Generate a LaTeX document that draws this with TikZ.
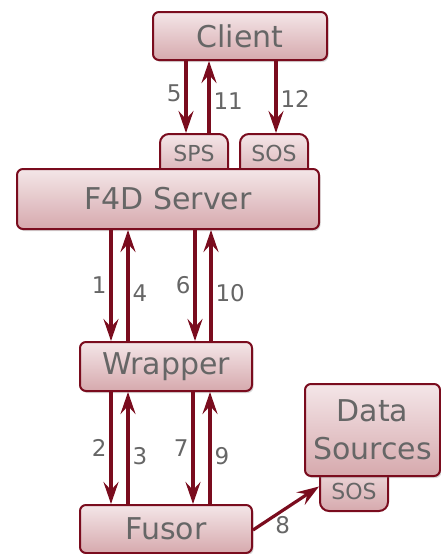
\documentclass[tikz,border=0pt]{standalone}
\usepackage{fontspec}
\setmainfont{DejaVu Sans}
\usetikzlibrary{shadows,arrows.meta}
\definecolor{edge}{HTML}{7A0C1E}
\definecolor{boxtop}{HTML}{F4E6E8}
\definecolor{boxbot}{HTML}{D6A9AD}
\definecolor{ink}{HTML}{666666}
\tikzset{
  box/.style={draw=edge, line width=2pt, rounded corners=6pt,
    top color=boxtop, bottom color=boxbot, text=ink,
    font=\fontsize{30}{36}\selectfont, inner sep=0pt,
    drop shadow={shadow xshift=1.5pt, shadow yshift=-2pt, opacity=0.3}},
  tab/.style={draw=edge, line width=2pt, rounded corners=9pt,
    top color=boxtop, bottom color=boxbot, text=ink,
    font=\fontsize{22}{26}\selectfont, minimum width=68pt, inner xsep=0pt},
  arr/.style={draw=edge, line width=3.2pt, -{Stealth[length=22pt,width=15pt,inset=8pt]}},
  num/.style={text=ink, font=\fontsize{23}{28}\selectfont, inner sep=3pt}
}
\begin{document}
\begin{tikzpicture}[x=1pt,y=-1pt]
\useasboundingbox (0,0) rectangle (441,554);

% protocol tabs on top of the server, drawn first so the server covers their feet
\node[tab, anchor=north, inner ysep=5pt, text height=22pt, text depth=16pt] (sps) at (194,133) {SPS};
\node[tab, anchor=north, inner ysep=5pt, text height=22pt, text depth=16pt] (sos) at (274,133) {SOS};
% tab below the data sources
\node[tab, anchor=south, inner ysep=5pt, text height=36pt, text depth=7pt] (dsos) at (354,512) {SOS};

% main boxes
\node[box, minimum width=174pt, minimum height=48pt] (client) at (240,36) {Client};
\node[box, minimum width=302pt, minimum height=60pt] (server) at (168,199) {F4D Server};
\node[box, minimum width=172pt, minimum height=49pt] (wrapper) at (166,366.5) {Wrapper};
\node[box, minimum width=172pt, minimum height=48pt] (fusor) at (166,529) {Fusor};
\node[box, minimum width=135pt, minimum height=92pt, align=center,
      font=\fontsize{30}{38}\selectfont] (data) at (372.5,430) {Data\\Sources};

% client <-> server tabs
\draw[arr] ([xshift=-54pt]client.south) -- node[num, left, pos=0.45] {5} ([xshift=-8pt]sps.north);
\draw[arr] ([xshift=15pt]sps.north) -- node[num, right, pos=0.44] {11} ([xshift=-31pt]client.south);
\draw[arr] ([xshift=36pt]client.south) -- node[num, right, pos=0.53] {12} ([xshift=2pt]sos.north);

% server <-> wrapper
\draw[arr] ([xshift=-57pt]server.south) -- node[num, left, pos=0.5] {1} ([xshift=-55pt]wrapper.north);
\draw[arr] ([xshift=-38pt]wrapper.north) -- node[num, right, pos=0.43] {4} ([xshift=-40pt]server.south);
\draw[arr] ([xshift=27pt]server.south) -- node[num, left, pos=0.5] {6} ([xshift=29pt]wrapper.north);
\draw[arr] ([xshift=45pt]wrapper.north) -- node[num, right, pos=0.43] {10} ([xshift=43pt]server.south);

% wrapper <-> fusor
\draw[arr] ([xshift=-55pt]wrapper.south) -- node[num, left, pos=0.5] {2} ([xshift=-55pt]fusor.north);
\draw[arr] ([xshift=-38pt]fusor.north) -- node[num, right, pos=0.43] {3} ([xshift=-38pt]wrapper.south);
\draw[arr] ([xshift=27pt]wrapper.south) -- node[num, left, pos=0.5] {7} ([xshift=27pt]fusor.north);
\draw[arr] ([xshift=44pt]fusor.north) -- node[num, right, pos=0.43] {9} ([xshift=44pt]wrapper.south);

% fusor -> data sources
\draw[arr] ([yshift=-1pt]fusor.east) -- node[num, below, pos=0.45, yshift=-1pt] {8} ([yshift=-2pt]dsos.west);
\end{tikzpicture}
\end{document}
